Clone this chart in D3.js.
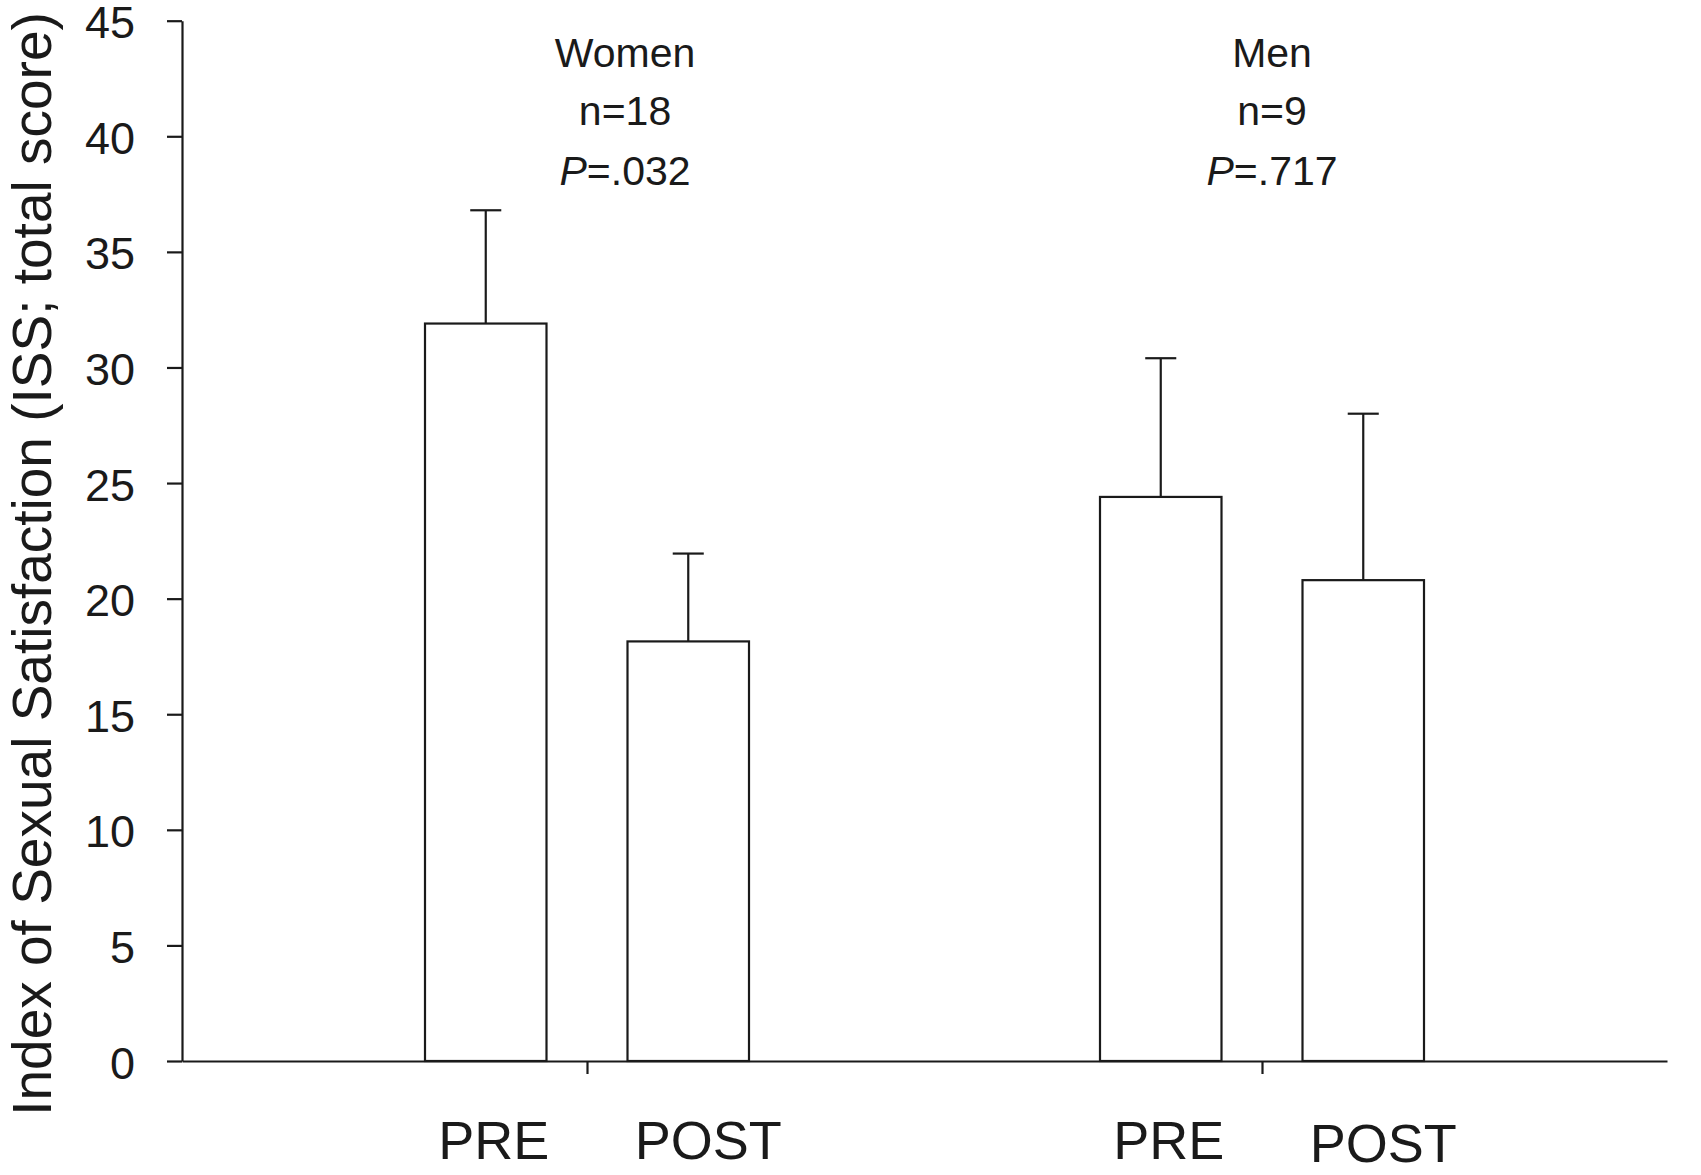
<!DOCTYPE html>
<html>
<head>
<meta charset="utf-8">
<script src="https://cdn.jsdelivr.net/npm/d3@7"></script>
<style>
  body { margin: 0; background: #fff; }
  text { font-family: "Liberation Sans", Arial, sans-serif; fill: #1a1a1a; }
</style>
</head>
<body>
<svg id="chart" width="1701" height="1175"></svg>
<script>
// groups, phases
var groups = ["Women", "Men"];
var phases = ["PRE", "POST"];

// mean ISS total score (PRE, POST)
var womenMean = [31.9, 18.15];
var menMean = [24.4, 20.8];
// upper error bar
var womenErr = [4.9, 3.8];
var menErr = [6.0, 7.2];

// header text per group
var groupN = ["n=18", "n=9"];
var groupP = [".032", ".717"];

var yTicks = [0, 5, 10, 15, 20, 25, 30, 35, 40, 45];

//////////////////////////////////////////////////
var svg = d3.select("#chart");
// !!! "top" is window.top
var plotLeft = 182, plotRight = 1667, plotTop = 20.7, plotBottom = 1061;

// group position 1, 2
var x = d3.scaleLinear().domain([0.4, 2.6]).range([plotLeft, plotRight]);
var y = d3.scaleLinear().domain([0, 45]).range([plotBottom, plotTop]);

var offset = 0.15, barW = 0.18, capW = 0.046;

var rows = [];
groups.forEach(function(g, gi){
  var m = gi == 0 ? womenMean : menMean;
  var e = gi == 0 ? womenErr : menErr;
  phases.forEach(function(p, pi){
    rows.push({group: g, gi: gi, phase: p, pi: pi, mean: m[pi], err: e[pi],
               pos: gi + 1 + (pi == 0 ? -offset : offset)});
  });
});

// error bars (drawn first, bar top covers base)
var eb = svg.append("g").attr("stroke", "#1a1a1a").attr("stroke-width", 2.2);
eb.selectAll(".v").data(rows).enter().append("line")
  .attr("x1", function(d){ return x(d.pos); })
  .attr("x2", function(d){ return x(d.pos); })
  .attr("y1", function(d){ return y(d.mean); })
  .attr("y2", function(d){ return y(d.mean + d.err); });
eb.selectAll(".c").data(rows).enter().append("line")
  .attr("x1", function(d){ return x(d.pos - capW / 2); })
  .attr("x2", function(d){ return x(d.pos + capW / 2); })
  .attr("y1", function(d){ return y(d.mean + d.err); })
  .attr("y2", function(d){ return y(d.mean + d.err); });

// bars
svg.append("g").selectAll("rect").data(rows).enter().append("rect")
  .attr("x", function(d){ return x(d.pos - barW / 2); })
  .attr("width", x(barW) - x(0))
  .attr("y", function(d){ return y(d.mean); })
  .attr("height", function(d){ return y(0) - y(d.mean); })
  .attr("fill", "#fff")
  .attr("stroke", "#1a1a1a")
  .attr("stroke-width", 2.2);

// y axis
var yAxis = svg.append("g")
  .attr("transform", "translate(" + plotLeft + ",0)")
  .call(d3.axisLeft(y).tickValues(yTicks).tickSize(15).tickSizeOuter(0).tickPadding(32));
yAxis.selectAll("text").attr("font-size", 45).attr("dy", "0.38em")
  .style("font-family", "'Liberation Sans', Arial, sans-serif").attr("fill", "#1a1a1a");

// x axis
var xAxis = svg.append("g")
  .attr("transform", "translate(0," + plotBottom + ")")
  .call(d3.axisBottom(x).tickValues([1, 2]).tickSize(13).tickSizeOuter(0).tickFormat(""));

svg.selectAll(".domain, .tick line").attr("stroke", "#1a1a1a").attr("stroke-width", 2.2);

// PRE / POST
var phaseNudge = [8, 20];
svg.append("g").selectAll("text").data(rows).enter().append("text")
  .attr("x", function(d){ return x(d.pos) + phaseNudge[d.pi]; })
  .attr("y", function(d){ return d.pi == 1 && d.gi == 1 ? 1162 : 1159; })
  .attr("text-anchor", "middle")
  .attr("font-size", 54)
  .text(function(d){ return d.phase; });

// group header
var headNudge = [38, 10];
var head = svg.append("g").selectAll("g").data(groups).enter().append("g")
  .attr("transform", function(d, i){ return "translate(" + (x(i + 1) + headNudge[i]) + ",0)"; })
  .attr("font-size", 41)
  .attr("text-anchor", "middle");
head.append("text").attr("y", 67).text(function(d){ return d; });
head.append("text").attr("y", 125).text(function(d, i){ return groupN[i]; });
var pt = head.append("text").attr("y", 185);
pt.append("tspan").attr("font-style", "italic").text("P");
pt.append("tspan").text(function(d, i){ return "=" + groupP[i]; });

// y label
svg.append("text")
  .attr("transform", "translate(51," + 564 + ") rotate(-90)")
  .attr("text-anchor", "middle")
  .attr("font-size", 55)
  .text("Index of Sexual Satisfaction (ISS; total score)");
</script>
</body>
</html>
